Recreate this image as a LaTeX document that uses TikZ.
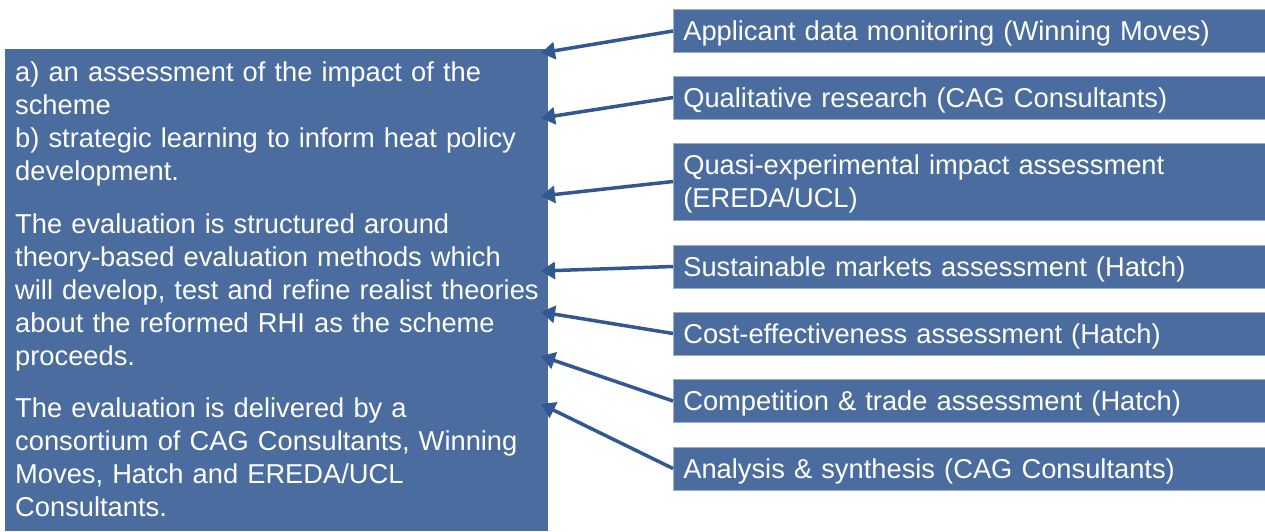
\documentclass[tikz,border=0pt]{standalone}
\usepackage{fontspec}
\setmainfont{Liberation Sans}
\usetikzlibrary{arrows.meta}

\definecolor{panel}{RGB}{74,108,158}
\definecolor{feedline}{RGB}{50,88,145}
\newcommand{\slidefont}{\fontsize{27.3}{33}\selectfont}

\tikzset{
  source/.style={fill=panel, draw=panel!55!white, line width=0.6pt, text=white, anchor=west,
    text width=572pt, inner xsep=10pt, inner ysep=0pt, align=left, minimum height=43pt,
    text depth=0pt, font=\slidefont},
  feed/.style={draw=feedline, line width=3.5pt, -{Triangle[length=14pt,width=17pt]}}
}

\begin{document}
\begin{tikzpicture}[x=1pt,y=-1pt]
  \useasboundingbox (0,0) rectangle (1265,531);

  %Aims panel
  \node[fill=panel, anchor=north west, minimum width=543pt, minimum height=482pt, inner sep=0pt] (aims) at (5,49) {};
  \node[anchor=north west, inner sep=0pt, text width=530pt, align=left, text=white, font=\slidefont] (aimstext)
    at ([shift={(10pt,-13pt)}]aims.north west)
    {a) an assessment of the impact of the\\
     scheme\\
     b) strategic learning to inform heat policy\\
     development.\\[20pt]
     The evaluation is structured around\\
     theory-based evaluation methods which\\
     will develop, test and refine realist theories\\
     about the reformed RHI as the scheme\\
     proceeds.\\[19pt]
     The evaluation is delivered by a\\
     consortium of CAG Consultants, Winning\\
     Moves, Hatch and EREDA/UCL\\
     Consultants.};

  %Strands
  \node[source] (src1) at (673,31) {Applicant data monitoring (Winning Moves)};
  \node[source] (src2) at (673,97.5) {Qualitative research (CAG Consultants)};
  \node[source, minimum height=77pt, text depth=33pt] (src3) at (673,181.5) {Quasi-experimental impact assessment\\(EREDA/UCL)};
  \node[source] (src4) at (673,266.5) {Sustainable markets assessment (Hatch)};
  \node[source] (src5) at (673,333.5) {Cost-effectiveness assessment (Hatch)};
  \node[source] (src6) at (673,401) {Competition \& trade assessment (Hatch)};
  \node[source] (src7) at (673,468.5) {Analysis \& synthesis (CAG Consultants)};

  %Arrow ends on the aims panel
  \foreach \n/\y in {1/53, 2/118, 3/196, 4/271, 5/312, 6/356, 7/404}
    \coordinate (in\n) at (541,\y);

  %Arrows
  \foreach \n in {1,...,7}
    \draw[feed] (src\n.west) -- (in\n);
\end{tikzpicture}
\end{document}
